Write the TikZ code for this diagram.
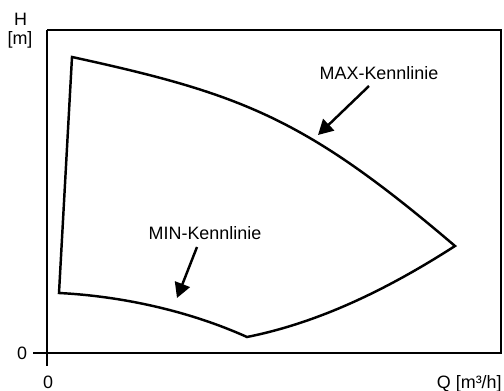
\documentclass[tikz,border=0pt]{standalone}
\usepackage{fontspec}
\setmainfont{Liberation Sans}
\usetikzlibrary{arrows.meta}

\begin{document}
\begin{tikzpicture}[x=0.02cm,y=-0.02cm]
\tikzset{>={Triangle[width=9pt,length=8.5pt]}}
\tikzstyle{lbl} =[inner sep=0pt,font=\fontsize{10.2}{12}\selectfont]
\tikzstyle{kline} =[line width=1.4pt]
\tikzstyle{axis} =[line width=1.1pt]

\useasboundingbox (0,0) rectangle (504,391);

% Rahmen und Achsen
\coordinate (o) at (47,353);
\coordinate (ytop) at (47,30);
\coordinate (ybot) at (47,366);
\coordinate (xl) at (33,353);
\coordinate (xr) at (501,353);
\coordinate (tr) at (501,30);
\draw[axis] (ytop) -- (ybot);
\draw[axis] (xl) -- (xr) -- (tr) -- (ytop);

\node[lbl,anchor=base](hlab) at (20.5,26){H};
\node[lbl,anchor=base](hunit) at (20,44.5){[m]};
\node[lbl,anchor=base](yzero) at (22,359.5){0};
\node[lbl,anchor=base](xzero) at (48,388.5){0};
\node[lbl,anchor=base east](qlab) at (502,388.5){Q [m³/h]};

% Kennfeld
\coordinate (a) at (72,57);
\coordinate (b) at (455,246);
\coordinate (c) at (247,337);
\coordinate (d) at (59,293);
\draw[kline] (a) .. controls (242,94) and (305,118) .. (b)
  .. controls (385,291) and (317,323) .. (c)
  .. controls (187,310) and (119,296) .. (d) -- cycle;

% Beschriftung
\node[lbl,anchor=base](maxlab) at (379,79.5){MAX-Kennlinie};
\node[lbl,anchor=base](minlab) at (205,240){MIN-Kennlinie};
\coordinate (maxs) at (369,86);
\coordinate (maxt) at (318,135);
\coordinate (mins) at (197,247);
\coordinate (mint) at (177,298);
\draw [->,kline] (maxs) to (maxt);
\draw [->,kline] (mins) to (mint);
\end{tikzpicture}
\end{document}
